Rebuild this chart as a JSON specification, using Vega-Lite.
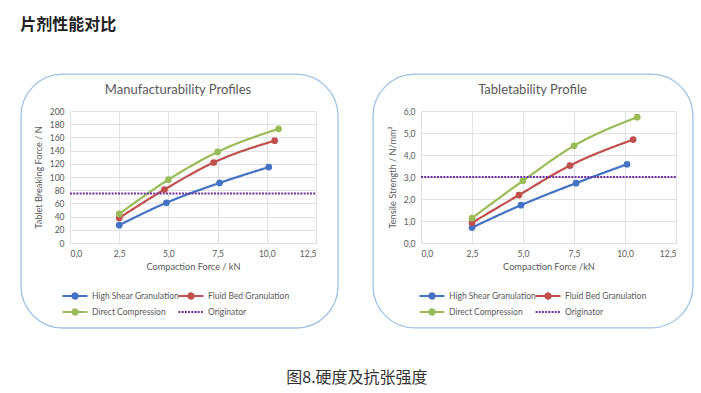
{
  "$schema": "https://vega.github.io/schema/vega-lite/v6.json",
  "background": "white",
  "padding": {"left": 20, "top": 17, "right": 5, "bottom": 5},
  "title": {"text": "片剂性能对比", "font": "Noto Sans CJK SC", "fontSize": 16, "fontWeight": "bold", "color": "#222222", "anchor": "start", "offset": 40},
  "datasets": {
    "left": [
      {"series": "High Shear Granulation", "force": 2.5, "value": 27},
      {"series": "High Shear Granulation", "force": 4.9, "value": 61},
      {"series": "High Shear Granulation", "force": 7.6, "value": 91},
      {"series": "High Shear Granulation", "force": 10.1, "value": 115},
      {"series": "Fluid Bed Granulation", "force": 2.5, "value": 38},
      {"series": "Fluid Bed Granulation", "force": 4.8, "value": 81},
      {"series": "Fluid Bed Granulation", "force": 7.3, "value": 122},
      {"series": "Fluid Bed Granulation", "force": 10.4, "value": 155},
      {"series": "Direct Compression", "force": 2.5, "value": 44},
      {"series": "Direct Compression", "force": 5.0, "value": 96},
      {"series": "Direct Compression", "force": 7.5, "value": 138},
      {"series": "Direct Compression", "force": 10.6, "value": 173},
      {"series": "Originator", "force": 0, "value": 75},
      {"series": "Originator", "force": 12.5, "value": 75}
    ],
    "right": [
      {"series": "High Shear Granulation", "force": 2.5, "value": 0.70},
      {"series": "High Shear Granulation", "force": 4.9, "value": 1.72},
      {"series": "High Shear Granulation", "force": 7.6, "value": 2.72},
      {"series": "High Shear Granulation", "force": 10.1, "value": 3.58},
      {"series": "Fluid Bed Granulation", "force": 2.5, "value": 0.92},
      {"series": "Fluid Bed Granulation", "force": 4.8, "value": 2.18},
      {"series": "Fluid Bed Granulation", "force": 7.3, "value": 3.52},
      {"series": "Fluid Bed Granulation", "force": 10.4, "value": 4.70},
      {"series": "Direct Compression", "force": 2.5, "value": 1.13},
      {"series": "Direct Compression", "force": 5.0, "value": 2.83},
      {"series": "Direct Compression", "force": 7.5, "value": 4.42},
      {"series": "Direct Compression", "force": 10.6, "value": 5.72},
      {"series": "Originator", "force": 0, "value": 3.0},
      {"series": "Originator", "force": 12.5, "value": 3.0}
    ],
    "one": [{"k": 1}]
  },
  "vconcat": [
    {
      "title": {"text": "图8.硬度及抗张强度", "orient": "bottom", "font": "Noto Sans CJK SC", "fontSize": 16, "fontWeight": "normal", "color": "#333333", "anchor": "middle", "offset": 41},
      "spacing": 33,
      "resolve": {"scale": {"color": "independent", "strokeDash": "independent"}, "legend": {"color": "independent", "strokeDash": "independent"}},
      "hconcat": [
        {
          "width": 246,
          "height": 132,
          "title": {"text": "Manufacturability Profiles", "offset": -24, "frame": "group", "dx": -15},
          "layer": [
            {
              "data": {"name": "one"},
              "mark": {"type": "rect", "cornerRadius": 42, "fill": "transparent", "stroke": "#9DC3E6", "strokeWidth": 1.3},
              "encoding": {
                "x": {"datum": -2.49, "type": "quantitative", "scale": {"domain": [0, 12.5], "nice": false}, "axis": {"values": [0, 2.5, 5, 7.5, 10, 12.5], "tickCount": 6, "labelExpr": "replace(format(datum.value, '.1f'), '.', ',')"}, "title": "Compaction Force / kN"},
                "x2": {"datum": 13.62},
                "y": {"datum": 256, "type": "quantitative", "scale": {"domain": [0, 200], "nice": false}, "axis": {"values": [0, 20, 40, 60, 80, 100, 120, 140, 160, 180, 200], "tickCount": 11, "labelOverlap": false}, "title": "Tablet Breaking Force / N"},
                "y2": {"datum": -128.8}
              }
            },
            {
              "data": {"name": "left"},
              "mark": {"type": "line", "interpolate": "monotone", "strokeWidth": 2.2},
              "encoding": {
                "x": {"field": "force", "type": "quantitative", "scale": {"domain": [0, 12.5], "nice": false}, "axis": {"values": [0, 2.5, 5, 7.5, 10, 12.5], "tickCount": 6, "labelExpr": "replace(format(datum.value, '.1f'), '.', ',')"}, "title": "Compaction Force / kN"},
                "y": {"field": "value", "type": "quantitative", "scale": {"domain": [0, 200], "nice": false}, "axis": {"values": [0, 20, 40, 60, 80, 100, 120, 140, 160, 180, 200], "tickCount": 11, "labelOverlap": false}, "title": "Tablet Breaking Force / N"},
                "color": {"field": "series", "type": "nominal", "scale": {"domain": ["High Shear Granulation", "Fluid Bed Granulation", "Direct Compression", "Originator"], "range": ["#4472C4", "#C0504D", "#9BBB59", "#7030A0"]},
                  "legend": {"title": null, "orient": "none", "legendX": -2, "legendY": 178, "direction": "horizontal", "columns": 2,
                    "encode": {"symbols": {"update": {
                      "shape": [{"test": "datum.value === 'Originator'", "value": "M-2.27,0L2.27,0"}, {"value": "M-2.27,0L2.27,0M0.47,0A0.47,0.47 0 1 1 -0.47,0A0.47,0.47 0 1 1 0.47,0Z"}],
                      "fill": [{"test": "datum.value === 'High Shear Granulation'", "value": "#4472C4"}, {"test": "datum.value === 'Fluid Bed Granulation'", "value": "#C0504D"}, {"test": "datum.value === 'Direct Compression'", "value": "#9BBB59"}, {"value": "transparent"}]
                    }}}}},
                "strokeDash": {"field": "series", "type": "nominal", "scale": {"domain": ["High Shear Granulation", "Fluid Bed Granulation", "Direct Compression", "Originator"], "range": [[1, 0], [1, 0], [1, 0], [2, 1.2]]}, "legend": {"title": null, "orient": "none", "legendX": -2, "legendY": 178, "direction": "horizontal", "columns": 2}}
              }
            },
            {
              "data": {"name": "left"},
              "transform": [{"filter": "datum.series !== 'Originator'"}],
              "mark": {"type": "point", "filled": true, "opacity": 1, "size": 45},
              "encoding": {
                "x": {"field": "force", "type": "quantitative", "title": "Compaction Force / kN"},
                "y": {"field": "value", "type": "quantitative", "title": "Tablet Breaking Force / N"},
                "color": {"field": "series", "type": "nominal", "legend": {"title": null, "orient": "none", "legendX": -2, "legendY": 178, "direction": "horizontal", "columns": 2}}
              }
            }
          ]
        },
        {
          "width": 255,
          "height": 132,
          "title": {"text": "Tabletability Profile", "offset": -24, "frame": "group", "dx": -16},
          "layer": [
            {
              "data": {"name": "one"},
              "mark": {"type": "rect", "cornerRadius": 42, "fill": "transparent", "stroke": "#9DC3E6", "strokeWidth": 1.3},
              "encoding": {
                "x": {"datum": -2.35, "type": "quantitative", "scale": {"domain": [0, 12.5], "nice": false}, "axis": {"values": [0, 2.5, 5, 7.5, 10, 12.5], "tickCount": 6, "labelExpr": "replace(format(datum.value, '.1f'), '.', ',')"}, "title": "Compaction Force /kN"},
                "x2": {"datum": 13.33},
                "y": {"datum": 7.68, "type": "quantitative", "scale": {"domain": [0, 6], "nice": false}, "axis": {"values": [0, 1, 2, 3, 4, 5, 6], "tickCount": 7, "labelOverlap": false, "labelExpr": "replace(format(datum.value, '.1f'), '.', ',')"}, "title": "Tensile Strength / N/mm²"},
                "y2": {"datum": -3.86}
              }
            },
            {
              "data": {"name": "right"},
              "mark": {"type": "line", "interpolate": "monotone", "strokeWidth": 2.2},
              "encoding": {
                "x": {"field": "force", "type": "quantitative", "scale": {"domain": [0, 12.5], "nice": false}, "axis": {"values": [0, 2.5, 5, 7.5, 10, 12.5], "tickCount": 6, "labelExpr": "replace(format(datum.value, '.1f'), '.', ',')"}, "title": "Compaction Force /kN"},
                "y": {"field": "value", "type": "quantitative", "scale": {"domain": [0, 6], "nice": false}, "axis": {"values": [0, 1, 2, 3, 4, 5, 6], "tickCount": 7, "labelOverlap": false, "labelExpr": "replace(format(datum.value, '.1f'), '.', ',')"}, "title": "Tensile Strength / N/mm²"},
                "color": {"field": "series", "type": "nominal", "scale": {"domain": ["High Shear Granulation", "Fluid Bed Granulation", "Direct Compression", "Originator"], "range": ["#4472C4", "#C0504D", "#9BBB59", "#7030A0"]},
                  "legend": {"title": null, "orient": "none", "legendX": 4, "legendY": 178, "direction": "horizontal", "columns": 2,
                    "encode": {"symbols": {"update": {
                      "shape": [{"test": "datum.value === 'Originator'", "value": "M-2.27,0L2.27,0"}, {"value": "M-2.27,0L2.27,0M0.47,0A0.47,0.47 0 1 1 -0.47,0A0.47,0.47 0 1 1 0.47,0Z"}],
                      "fill": [{"test": "datum.value === 'High Shear Granulation'", "value": "#4472C4"}, {"test": "datum.value === 'Fluid Bed Granulation'", "value": "#C0504D"}, {"test": "datum.value === 'Direct Compression'", "value": "#9BBB59"}, {"value": "transparent"}]
                    }}}}},
                "strokeDash": {"field": "series", "type": "nominal", "scale": {"domain": ["High Shear Granulation", "Fluid Bed Granulation", "Direct Compression", "Originator"], "range": [[1, 0], [1, 0], [1, 0], [2, 1.2]]}, "legend": {"title": null, "orient": "none", "legendX": 4, "legendY": 178, "direction": "horizontal", "columns": 2}}
              }
            },
            {
              "data": {"name": "right"},
              "transform": [{"filter": "datum.series !== 'Originator'"}],
              "mark": {"type": "point", "filled": true, "opacity": 1, "size": 45},
              "encoding": {
                "x": {"field": "force", "type": "quantitative", "title": "Compaction Force /kN"},
                "y": {"field": "value", "type": "quantitative", "title": "Tensile Strength / N/mm²"},
                "color": {"field": "series", "type": "nominal", "legend": {"title": null, "orient": "none", "legendX": 4, "legendY": 178, "direction": "horizontal", "columns": 2}}
              }
            }
          ]
        }
      ]
    }
  ],
  "config": {
    "font": "Lato",
    "view": {"stroke": null},
    "title": {"fontSize": 13, "fontWeight": "normal", "color": "#595959", "font": "Lato"},
    "axis": {"domain": false, "ticks": false, "grid": true, "gridColor": "#D9D9D9", "gridWidth": 0.8, "labelColor": "#595959", "titleColor": "#595959", "labelFontSize": 8.5, "titleFontSize": 9.2, "titleFontWeight": "normal", "labelFont": "Lato", "titleFont": "Lato"},
    "axisX": {"labelPadding": 6, "titlePadding": 5},
    "axisY": {"labelPadding": 6, "titlePadding": 6},
    "legend": {
      "labelFontSize": 8.5,
      "labelColor": "#595959",
      "labelFont": "Lato",
      "labelOffset": 10,
      "symbolSize": 121,
      "symbolStrokeWidth": 2.2,
      "symbolType": "M-2.27,0L2.27,0M0.47,0A0.47,0.47 0 1 1 -0.47,0A0.47,0.47 0 1 1 0.47,0Z",
      "rowPadding": 2,
      "columnPadding": -5
    }
  }
}
